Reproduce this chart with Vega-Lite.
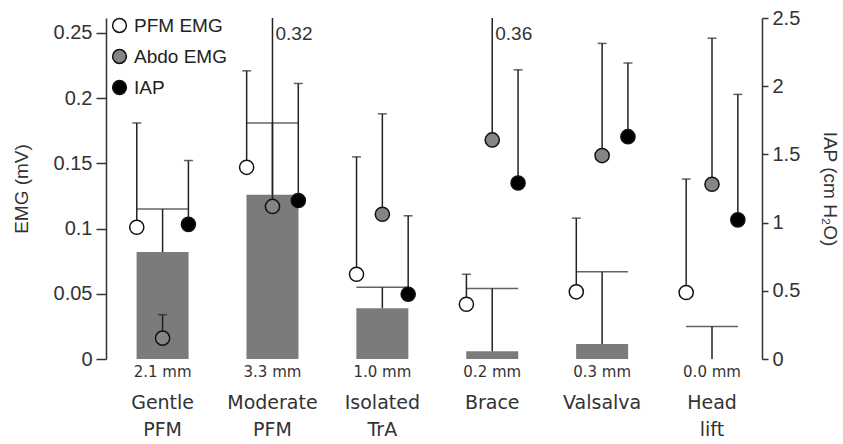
{
  "$schema": "https://vega.github.io/schema/vega-lite/v6.json",
  "width": 656,
  "height": 341,
  "autosize": {"type": "none"},
  "padding": {"left": 106, "top": 18, "right": 81, "bottom": 85},
  "background": "white",
  "config": {"view": {"stroke": null}, "font": "Liberation Sans"},
  "datasets": {
    "bars": [
      {"cond": "Gentle PFM", "bar": 0.082, "cap": 0.115, "mm": "2.1 mm"},
      {"cond": "Moderate PFM", "bar": 0.126, "cap": 0.181, "mm": "3.3 mm"},
      {"cond": "Isolated TrA", "bar": 0.039, "cap": 0.055, "mm": "1.0 mm"},
      {"cond": "Brace", "bar": 0.006, "cap": 0.054, "mm": "0.2 mm"},
      {"cond": "Valsalva", "bar": 0.0115, "cap": 0.067, "mm": "0.3 mm"},
      {"cond": "Head lift", "bar": 0, "cap": 0.025, "mm": "0.0 mm"}
    ],
    "pts": [
      {"cond": "Gentle PFM", "series": "PFM EMG", "val": 0.101, "hi": 0.181},
      {"cond": "Gentle PFM", "series": "Abdo EMG", "val": 0.016, "hi": 0.034},
      {"cond": "Gentle PFM", "series": "IAP", "val": 0.987, "hi": 1.455},
      {"cond": "Moderate PFM", "series": "PFM EMG", "val": 0.147, "hi": 0.221},
      {"cond": "Moderate PFM", "series": "Abdo EMG", "val": 0.117, "hi": 0.32, "lbl": "0.32"},
      {"cond": "Moderate PFM", "series": "IAP", "val": 1.162, "hi": 2.02},
      {"cond": "Isolated TrA", "series": "PFM EMG", "val": 0.065, "hi": 0.155},
      {"cond": "Isolated TrA", "series": "Abdo EMG", "val": 0.111, "hi": 0.188},
      {"cond": "Isolated TrA", "series": "IAP", "val": 0.475, "hi": 1.05},
      {"cond": "Brace", "series": "PFM EMG", "val": 0.042, "hi": 0.065},
      {"cond": "Brace", "series": "Abdo EMG", "val": 0.168, "hi": 0.36, "lbl": "0.36"},
      {"cond": "Brace", "series": "IAP", "val": 1.29, "hi": 2.12},
      {"cond": "Valsalva", "series": "PFM EMG", "val": 0.0515, "hi": 0.108},
      {"cond": "Valsalva", "series": "Abdo EMG", "val": 0.156, "hi": 0.242},
      {"cond": "Valsalva", "series": "IAP", "val": 1.63, "hi": 2.17},
      {"cond": "Head lift", "series": "PFM EMG", "val": 0.051, "hi": 0.138},
      {"cond": "Head lift", "series": "Abdo EMG", "val": 0.134, "hi": 0.246},
      {"cond": "Head lift", "series": "IAP", "val": 1.02, "hi": 1.94}
    ]
  },
  "layer": [
    {
      "layer": [
        {
          "data": {"name": "bars"},
          "mark": {"type": "bar", "color": "#7b7b7b", "width": 52},
          "encoding": {
            "x": {
              "field": "cond", "type": "nominal",
              "sort": ["Gentle PFM", "Moderate PFM", "Isolated TrA", "Brace", "Valsalva", "Head lift"],
              "scale": {"domain": ["Gentle PFM", "Moderate PFM", "Isolated TrA", "Brace", "Valsalva", "Head lift"], "paddingInner": 0.53, "paddingOuter": 0.25, "align": 0.56},
              "axis": {
                "title": null, "domain": false, "ticks": false, "labelAngle": 0,
                "labelExpr": "split(datum.label, ' ')",
                "labelFont": "DejaVu Sans", "labelFontSize": 19, "labelColor": "#333",
                "labelLineHeight": 27, "labelBaseline": "top", "labelPadding": 34
              }
            },
            "y": {
              "field": "bar", "type": "quantitative", "title": "EMG (mV)",
              "scale": {"domain": [0, 0.2615], "nice": false, "clamp": true, "zero": true},
              "axis": {
                "title": "EMG (mV)", "values": [0, 0.05, 0.1, 0.15, 0.2, 0.25], "format": "~g",
                "grid": false, "tickSize": 10, "labelFontSize": 20, "labelColor": "#333",
                "domainColor": "#333", "tickColor": "#333", "domainWidth": 1.5, "tickWidth": 1.5,
                "titleFontSize": 19, "titleFontWeight": "normal", "titleColor": "#333", "titlePadding": 22, "labelPadding": 4
              }
            }
          }
        },
        {
          "data": {"name": "bars"},
          "mark": {"type": "rule", "color": "#222", "strokeWidth": 1.5},
          "encoding": {
            "x": {"field": "cond", "type": "nominal"},
            "y": {"field": "bar", "type": "quantitative", "title": "EMG (mV)"},
            "y2": {"field": "cap"}
          }
        },
        {
          "data": {"name": "bars"},
          "mark": {"type": "tick", "color": "#222", "thickness": 1.5, "size": 52},
          "encoding": {
            "x": {"field": "cond", "type": "nominal"},
            "y": {"field": "cap", "type": "quantitative", "title": "EMG (mV)"}
          }
        },
        {
          "data": {"name": "bars"},
          "mark": {"type": "text", "font": "DejaVu Sans", "fontSize": 15, "color": "#333", "baseline": "middle", "dy": 13},
          "encoding": {
            "x": {"field": "cond", "type": "nominal"},
            "y": {"datum": 0, "type": "quantitative"},
            "text": {"field": "mm"}
          }
        },
        {
          "data": {"name": "pts"},
          "transform": [{"filter": "datum.series != 'IAP'"}],
          "mark": {"type": "rule", "color": "#222", "strokeWidth": 1.5},
          "encoding": {
            "x": {"field": "cond", "type": "nominal"},
            "xOffset": {"field": "series", "type": "nominal", "scale": {"type": "point", "padding": 0, "domain": ["PFM EMG", "Abdo EMG", "IAP"]}},
            "y": {"field": "val", "type": "quantitative", "title": "EMG (mV)"},
            "y2": {"field": "hi"}
          }
        },
        {
          "data": {"name": "pts"},
          "transform": [{"filter": "datum.series != 'IAP' && datum.hi < 0.26"}],
          "mark": {"type": "tick", "color": "#222", "thickness": 1.5, "size": 9},
          "encoding": {
            "x": {"field": "cond", "type": "nominal"},
            "xOffset": {"field": "series", "type": "nominal"},
            "y": {"field": "hi", "type": "quantitative", "title": "EMG (mV)"}
          }
        },
        {
          "data": {"name": "pts"},
          "transform": [{"filter": "isValid(datum.lbl)"}],
          "mark": {"type": "text", "fontSize": 19, "color": "#333", "align": "left", "baseline": "top", "dx": 3, "dy": 7},
          "encoding": {
            "x": {"field": "cond", "type": "nominal"},
            "xOffset": {"field": "series", "type": "nominal"},
            "y": {"field": "hi", "type": "quantitative", "title": "EMG (mV)"},
            "text": {"field": "lbl"}
          }
        },
        {
          "data": {"name": "pts"},
          "transform": [{"filter": "datum.series != 'IAP'"}],
          "mark": {"type": "point", "filled": true, "stroke": "#111", "strokeWidth": 1.5, "size": 200, "opacity": 1, "shape": "circle"},
          "encoding": {
            "x": {"field": "cond", "type": "nominal"},
            "xOffset": {"field": "series", "type": "nominal"},
            "y": {"field": "val", "type": "quantitative", "title": "EMG (mV)"},
            "fill": {
              "field": "series", "type": "nominal",
              "scale": {"domain": ["PFM EMG", "Abdo EMG", "IAP"], "range": ["#ffffff", "#858585", "#000000"]},
              "legend": {
                "title": null, "orient": "none", "legendX": 4, "legendY": -2,
                "labelFontSize": 19, "labelColor": "#222", "symbolType": "circle", "symbolSize": 190,
                "symbolStrokeColor": "#111", "symbolStrokeWidth": 1.5, "rowPadding": 10, "labelOffset": 5
              }
            }
          }
        }
      ]
    },
    {
      "layer": [
        {
          "data": {"name": "pts"},
          "transform": [{"filter": "datum.series == 'IAP'"}],
          "mark": {"type": "rule", "color": "#222", "strokeWidth": 1.5},
          "encoding": {
            "x": {"field": "cond", "type": "nominal"},
            "xOffset": {"field": "series", "type": "nominal"},
            "y": {
              "field": "val", "type": "quantitative", "title": "IAP (cm H₂O)",
              "scale": {"domain": [0, 2.5], "nice": false, "zero": true},
              "axis": {
                "orient": "right", "title": "IAP (cm H₂O)", "values": [0, 0.5, 1, 1.5, 2, 2.5], "format": "~g",
                "grid": false, "tickSize": 6, "labelFontSize": 20, "labelColor": "#333",
                "domainColor": "#333", "tickColor": "#333", "domainWidth": 1.5, "tickWidth": 1.5,
                "titleFontSize": 19, "titleFontWeight": "normal", "titleColor": "#333", "titlePadding": 20, "labelPadding": 4
              }
            },
            "y2": {"field": "hi"}
          }
        },
        {
          "data": {"name": "pts"},
          "transform": [{"filter": "datum.series == 'IAP'"}],
          "mark": {"type": "tick", "color": "#222", "thickness": 1.5, "size": 9},
          "encoding": {
            "x": {"field": "cond", "type": "nominal"},
            "xOffset": {"field": "series", "type": "nominal"},
            "y": {"field": "hi", "type": "quantitative", "title": "IAP (cm H₂O)"}
          }
        },
        {
          "data": {"name": "pts"},
          "transform": [{"filter": "datum.series == 'IAP'"}],
          "mark": {"type": "point", "filled": true, "stroke": "#111", "strokeWidth": 1.5, "size": 200, "opacity": 1, "shape": "circle"},
          "encoding": {
            "x": {"field": "cond", "type": "nominal"},
            "xOffset": {"field": "series", "type": "nominal"},
            "y": {"field": "val", "type": "quantitative", "title": "IAP (cm H₂O)"},
            "fill": {"field": "series", "type": "nominal"}
          }
        }
      ]
    }
  ],
  "resolve": {"scale": {"y": "independent"}}
}
